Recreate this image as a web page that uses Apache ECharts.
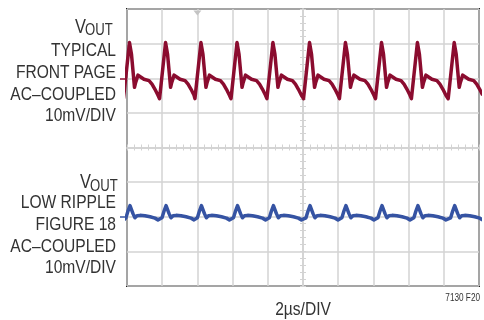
<!DOCTYPE html>
<html>
<head>
<meta charset="utf-8">
<script src="https://cdn.jsdelivr.net/npm/echarts@6/dist/echarts.min.js"></script>
<style>
  html, body { margin: 0; padding: 0; background: #fff; }
  #chart { width: 484px; height: 320px; }
</style>
</head>
<body>
<div id="chart"></div>
<script>
// scope: 2us/DIV, 10mV/DIV, both channels AC-coupled
// spike times (us), same for both channels
const peakTimes = [0.17, 2.22, 4.23, 6.28, 8.32, 10.40, 12.44, 14.49, 16.53, 18.62]

// one period of the "typical" trace: time from spike (us) and level (mV)
const redOffsets = [-0.37, -0.03, 0.03, 0.085, 0.256, 0.313, 0.455, 0.625, 0.795, 1.08, 1.25, 1.42, 1.59]
const redLevels = [-5.9, 10.3, 10.3, 6.9, -2.6, -1.4, 0.9, 0.3, -0.3, -0.7, -1.7, -3.2, -4.9]

// one period of the "low ripple" trace
const blueOffsets = [-0.40, -0.23, -0.11, 0, 0.06, 0.17, 0.28, 0.40, 0.57, 0.85, 1.14, 1.42, 1.59]
const blueLevels = [-1.2, -0.3, 1.7, 3.2, 2.9, 0.9, -0.3, 0.3, 0.4, 0.3, 0.0, -0.4, -0.9]

// channel ground markers (mV on screen)
const redBase = 20
const blueBase = -20
const triggerTime = 4

const redColor = '#8b0c2f'
const blueColor = '#3553a3'
const gridColor = '#d3d3d3'
const labelFont = '"Liberation Sans", Arial, sans-serif'

function buildTrace(base, offsets, levels) {
  const pts = []
  peakTimes.forEach(function(t) {
    offsets.forEach(function(o, i) {
      pts.push([+(t + o).toFixed(3), base + levels[i]])
    })
  })
  return pts
}

// the original uses a condensed face, so squeeze the text horizontally
function label(text, x, y, size, align) {
  return {
    type: 'text',
    x: x,
    y: y,
    scaleX: 0.82,
    silent: true,
    style: {
      text: text,
      fill: '#333333',
      font: size + 'px ' + labelFont,
      align: align || 'right',
      verticalAlign: 'middle'
    }
  }
}

const chart = echarts.init(document.getElementById('chart'))

const minorX = {
  type: 'value', min: 0, max: 20, interval: 0.4,
  axisLine: { show: true, onZero: true, onZeroAxisIndex: 0, lineStyle: { color: gridColor, width: 1.5 } },
  axisTick: { show: true, inside: true, length: 3, lineStyle: { color: gridColor, width: 1 } },
  axisLabel: { show: false },
  splitLine: { show: false }
}
const minorY = {
  type: 'value', min: -40, max: 40, interval: 2,
  axisLine: { show: true, onZero: true, onZeroAxisIndex: 3, lineStyle: { color: gridColor, width: 1.5 } },
  axisTick: { show: true, inside: true, length: 3, lineStyle: { color: gridColor, width: 1 } },
  axisLabel: { show: false },
  splitLine: { show: false }
}
function groundMarker(value, color) {
  return {
    type: 'value', min: -40, max: 40, position: 'left',
    axisLine: { show: false, onZero: false },
    axisTick: { show: true, length: 7, customValues: [value], lineStyle: { color: color, width: 1.5 } },
    axisLabel: { show: false },
    splitLine: { show: false }
  }
}

chart.setOption({
  backgroundColor: '#ffffff',
  animation: false,
  grid: {
    left: 127,
    right: 5,
    top: 9,
    bottom: 34,
    show: true,
    borderColor: '#1e1e1e',
    borderWidth: 2,
    backgroundColor: 'transparent'
  },
  xAxis: [
    {
      type: 'value', min: 0, max: 20, interval: 2,
      axisLine: { show: false, onZero: false },
      axisTick: { show: false },
      axisLabel: { show: false },
      splitLine: { show: true, lineStyle: { color: gridColor, width: 1.5 } }
    },
    Object.assign({}, minorX, { position: 'bottom' }),
    Object.assign({}, minorX, { position: 'top' }),
    { type: 'value', min: -10, max: 10, show: false }
  ],
  yAxis: [
    {
      type: 'value', min: -40, max: 40, interval: 10,
      axisLine: { show: false, onZero: false },
      axisTick: { show: false },
      axisLabel: { show: false },
      splitLine: { show: true, lineStyle: { color: gridColor, width: 1.5 } }
    },
    Object.assign({}, minorY, { position: 'left' }),
    Object.assign({}, minorY, { position: 'right' }),
    groundMarker(redBase, redColor),
    groundMarker(blueBase, blueColor)
  ],
  series: [
    {
      name: 'typical',
      type: 'line',
      xAxisIndex: 0,
      yAxisIndex: 0,
      data: buildTrace(redBase, redOffsets, redLevels),
      showSymbol: false,
      clip: true,
      lineStyle: { color: redColor, width: 3.5, join: 'round' },
      markPoint: {
        symbol: 'triangle',
        symbolSize: [8, 5],
        symbolRotate: 180,
        symbolOffset: [0, 4],
        itemStyle: { color: '#c4c4c4' },
        label: { show: false },
        data: [{ coord: [triggerTime, 40] }]
      }
    },
    {
      name: 'low ripple',
      type: 'line',
      xAxisIndex: 0,
      yAxisIndex: 0,
      data: buildTrace(blueBase, blueOffsets, blueLevels),
      showSymbol: false,
      clip: true,
      lineStyle: { color: blueColor, width: 3.5, join: 'round' }
    }
  ],
  graphic: [
    label('V', 86, 27, 20),
    label('OUT', 85, 31, 16, 'left'),
    label('TYPICAL', 116, 51, 19),
    label('FRONT PAGE', 116, 73, 19),
    label('AC–COUPLED', 116, 95, 19),
    label('10mV/DIV', 116, 116, 19),
    label('V', 91, 182, 20),
    label('OUT', 90, 187, 16, 'left'),
    label('LOW RIPPLE', 116, 203, 19),
    label('FIGURE 18', 116, 225, 19),
    label('AC–COUPLED', 116, 247, 19),
    label('10mV/DIV', 116, 268, 19),
    label('2µs/DIV', 303, 310, 19, 'center'),
    label('7130 F20', 480, 298, 10)
  ]
})
</script>
</body>
</html>
